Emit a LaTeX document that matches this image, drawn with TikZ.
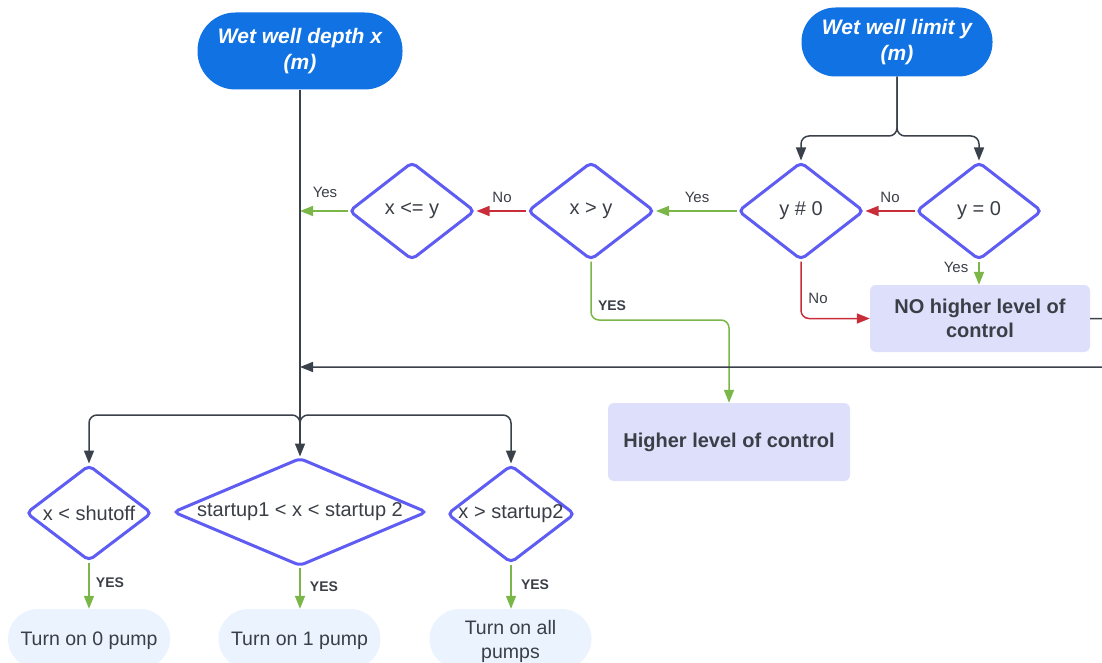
\documentclass[tikz,border=0pt]{standalone}
\usepackage{fontspec}
\setmainfont{Liberation Sans}
\usetikzlibrary{shapes.geometric,arrows.meta}

\definecolor{termblue}{RGB}{17,114,228}
\definecolor{dpurple}{RGB}{94,92,242}
\definecolor{boxlav}{RGB}{222,223,251}
\definecolor{pillblue}{RGB}{234,243,254}
\definecolor{lineDark}{RGB}{58,65,74}
\definecolor{txt}{RGB}{58,62,70}
\definecolor{okgreen}{RGB}{122,182,72}
\definecolor{nored}{RGB}{201,45,57}

% zero-width text so the diamond keeps its set size
\newcommand\dtext[1]{\makebox[0pt]{#1}}

\begin{document}
\begin{tikzpicture}[x=1pt,y=-1pt,
  terminal/.style={fill=termblue, text=white, align=center, inner sep=0pt,
    font=\fontsize{21}{26}\selectfont\bfseries\itshape},
  decision/.style={diamond, draw=dpurple, line width=3pt, rounded corners=5pt,
    fill=white, inner sep=0pt, text=txt, font=\fontsize{20}{22}\selectfont},
  levelbox/.style={fill=boxlav, rounded corners=6pt, text=txt, align=center,
    font=\bfseries\fontsize{20}{24}\selectfont},
  pill/.style={fill=pillblue, rounded corners=30pt, minimum width=162pt,
    minimum height=60pt, text=txt, align=center, inner sep=0pt, text depth=0pt,
    font=\fontsize{19.5}{24}\selectfont},
  arrowbase/.style={line width=1.5pt, rounded corners=8pt,
    -{Triangle[length=13pt,width=10pt]}},
  darkflow/.style={arrowbase, draw=lineDark},
  yesflow/.style={arrowbase, draw=okgreen},
  noflow/.style={arrowbase, draw=nored},
  lbl/.style={text=txt, font=\fontsize{15}{15}\selectfont, inner sep=0pt},
  caps/.style={text=txt, font=\bfseries\fontsize{14}{14}\selectfont, inner sep=0pt}
]
\clip (0,0) rectangle (1102,663);

% start terminals
\node[terminal, minimum width=205pt, minimum height=77pt, rounded corners=38pt]
  (depth) at (300,51) {Wet well depth x\\(m)};
\node[terminal, minimum width=191pt, minimum height=69pt, rounded corners=34pt]
  (limit) at (897,42) {Wet well limit y\\(m)};

% upper row of decisions
\node[decision, minimum width=126pt, minimum height=98pt] (yzero) at (979,211) {\dtext{y = 0}};
\node[decision, minimum width=126pt, minimum height=98pt] (ynz)   at (801,211) {\dtext{y \# 0}};
\node[decision, minimum width=127pt, minimum height=98pt] (xgt)   at (591,211) {\dtext{x > y}};
\node[decision, minimum width=126pt, minimum height=98pt] (xle)   at (412,211) {\dtext{x <= y}};

% control level boxes
\node[levelbox, minimum width=220pt, minimum height=67pt] (nobox) at (980,318.5)
  {NO higher level of\\control};
\node[levelbox, minimum width=242pt, minimum height=78pt] (hibox) at (729,442)
  {Higher level of control};

% lower row of decisions
\node[decision, minimum width=126pt, minimum height=96pt]  (dsh)  at (89,513)  {\dtext{x < shutoff}};
\node[decision, minimum width=254pt, minimum height=108pt] (dmid) at (300,512) {\dtext{startup1 < x < startup 2}};
\node[decision, minimum width=128pt, minimum height=98pt]  (dall) at (511,514) {\dtext{x > startup2}};

% pump actions
\node[pill] (p0)   at (89,639)    {Turn on 0 pump};
\node[pill] (p1)   at (299.5,639) {Turn on 1 pump};
\node[pill] (pall) at (510.5,639) {Turn on all\\pumps};

% junction points on the main line
\coordinate (ysplit) at (897,136);
\coordinate (yesin)  at (300,211);
\coordinate (retin)  at (300,367);
\coordinate (retout) at (1125,318.5);
\coordinate (xsplit) at (300,415);

% limit y splits into the two zero tests
\draw[darkflow] (limit.south) -- (ysplit) -| (ynz.north);
\draw[darkflow] (limit.south) -- (ysplit) -| (yzero.north);

% decision chain across the top
\draw[noflow]  (yzero.west) -- (ynz.east);
\draw[yesflow] (ynz.west)   -- (xgt.east);
\draw[noflow]  (xgt.west)   -- (xle.east);
\draw[yesflow] (xle.west)   -- (yesin);
\draw[yesflow] (yzero.south) -- (yzero.south |- nobox.north);
\draw[noflow]  (ynz.south) |- (nobox.west);
\draw[yesflow] (xgt.south) -- (591,320) -| (hibox.north);

% return path from the no-control box
\draw[darkflow] (nobox.east) -- (retout) |- (retin);

% main depth line and its three branches
\draw[darkflow] (depth.south) -- (dmid.north);
\draw[darkflow] ([yshift=-12pt]xsplit) -- (xsplit) -| (dsh.north);
\draw[darkflow] ([yshift=-12pt]xsplit) -- (xsplit) -| (dall.north);

% decisions to pump actions
\draw[yesflow] (dsh.south)  -- (p0.north);
\draw[yesflow] (dmid.south) -- (dmid.south |- p1.north);
\draw[yesflow] (dall.south) -- (dall.south |- pall.north);

% branch labels
\node[lbl] (lYes1) at (325,192) {Yes};
\node[lbl] (lNo1)  at (502,197) {No};
\node[lbl] (lYes2) at (697,197) {Yes};
\node[lbl] (lNo2)  at (890,197) {No};
\node[lbl] (lYes3) at (956,267) {Yes};
\node[lbl] (lNo3)  at (818,298) {No};
\node[caps] (cYes1) at (612,306) {YES};
\node[caps] (cYes2) at (110,583) {YES};
\node[caps] (cYes3) at (324,587) {YES};
\node[caps] (cYes4) at (535,585) {YES};
\end{tikzpicture}
\end{document}
